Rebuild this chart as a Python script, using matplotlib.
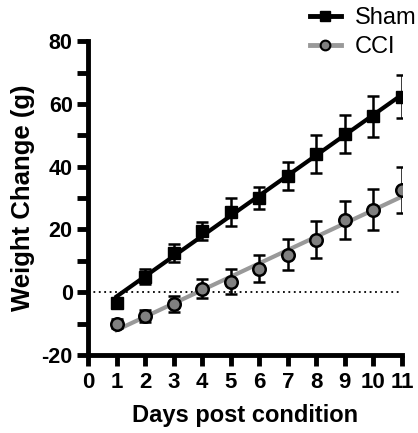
import numpy as np
import matplotlib.pyplot as plt
from matplotlib.ticker import MultipleLocator

days = np.arange(1, 12)
sham_mean = [-3.5, 5, 12.5, 19.5, 25.5, 30, 37, 44, 50.5, 56, 62.3]
sham_err = [1.0, 2.5, 3, 3, 4.5, 3.5, 4.5, 6, 6, 6.5, 6.8]
cci_mean = [-10, -7.5, -3.8, 1.2, 3.3, 7.5, 12, 16.8, 23, 26.3, 32.5]
cci_err = [1.5, 2, 2.5, 3, 4, 4.3, 5, 6, 6, 6.5, 7.4]

plt.rcParams['font.family'] = ['Liberation Sans', 'DejaVu Sans']
plt.rcParams['axes.unicode_minus'] = False

fig = plt.figure(figsize=(4.18, 4.33), dpi=100)
ax = fig.add_axes([0.2105, 0.18, 0.7512, 0.725])

# zero reference
ax.axhline(0, color='black', lw=1.3, ls=(0, (1, 2)), zorder=1)

# linear fits
for y, col in [(sham_mean, 'black'), (cci_mean, '#999999')]:
    k, b = np.polyfit(days, y, 1)
    ax.plot([days[0], days[-1]], [k * days[0] + b, k * days[-1] + b],
            color=col, lw=3, zorder=2)

ax.errorbar(days, sham_mean, yerr=sham_err, fmt='none', ecolor='black',
            elinewidth=1.8, capsize=4, capthick=1.8, zorder=3)
ax.errorbar(days, cci_mean, yerr=cci_err, fmt='none', ecolor='black',
            elinewidth=1.8, capsize=4, capthick=1.8, zorder=3)
ax.plot(days, sham_mean, 's', color='black', ms=8, zorder=4)
ax.plot(days, cci_mean, 'o', mfc='#808080', mec='black', mew=1.8, ms=9, zorder=4)

# legend handles
h1, = ax.plot([], [], '-s', color='black', lw=3.5, ms=7)
h2, = ax.plot([], [], '-o', color='#999999', lw=3.5, mfc='#808080', mec='black', mew=1.5, ms=7)
fig.legend([h1, h2], ['Sham', 'CCI'], loc='upper left', bbox_to_anchor=(310 / 418, 1 - 7 / 433),
           frameon=False, fontsize=17, handlelength=1.3, handletextpad=0.6,
           labelspacing=0.3, borderpad=0, borderaxespad=0)

ax.set_xlim(0, 11)
ax.set_ylim(-20, 80)
ax.set_xticks(range(0, 12))
ax.set_yticks([-20, 0, 20, 40, 60, 80])
ax.yaxis.set_minor_locator(MultipleLocator(10))

for s in ['top', 'right']:
    ax.spines[s].set_visible(False)
for s in ['left', 'bottom']:
    ax.spines[s].set_linewidth(3.5)

ax.tick_params(axis='both', which='major', width=3.5, length=8)
ax.tick_params(axis='x', labelsize=16, pad=4)
ax.tick_params(axis='y', labelsize=15.5, pad=3)
ax.tick_params(axis='y', which='minor', width=3.5, length=8)
for lbl in ax.get_xticklabels() + ax.get_yticklabels():
    lbl.set_fontweight('bold')

ax.set_xlabel('Days post condition', fontsize=17, fontweight='bold', labelpad=8)
ax.set_ylabel('Weight Change (g)', fontsize=18.5, fontweight='bold', labelpad=5)

fig.savefig('out.png', dpi=100)
